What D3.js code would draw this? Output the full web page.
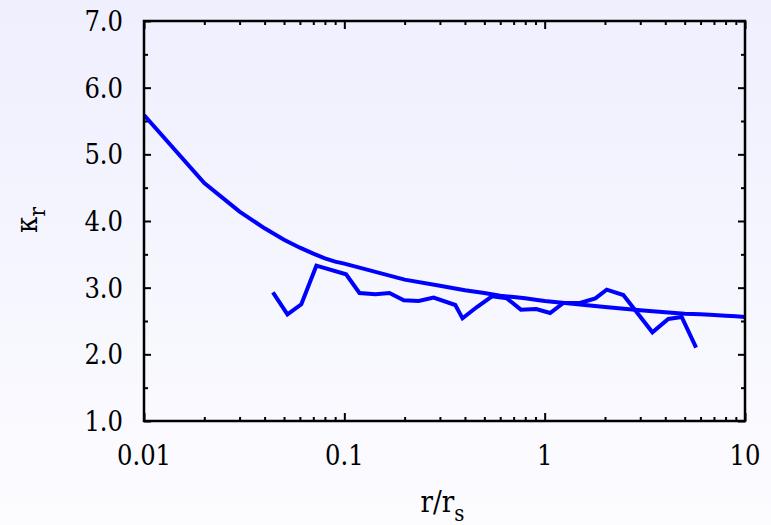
<!DOCTYPE html>
<html>
<head>
<meta charset="utf-8">
<script src="https://cdn.jsdelivr.net/npm/d3@7"></script>
<style>
  body { margin: 0; }
  svg { display: block; }
  svg text { font-family: "DejaVu Serif Condensed", "DejaVu Serif", serif; font-stretch: condensed; }
</style>
</head>
<body>
<div id="chart"></div>
<script>
var margin = {top: 21, right: 26, bottom: 104, left: 144};
var W = 771, H = 525;
var width = W - margin.left - margin.right;
var height = H - margin.top - margin.bottom;

// Data

// smooth model curve
var modelR = [0.01, 0.02, 0.03, 0.04, 0.05, 0.06, 0.07, 0.08, 0.09,
              0.1, 0.2, 0.3, 0.4, 0.5, 0.6, 0.7, 0.8, 0.9,
              1, 2, 3, 4, 5, 6, 7, 8, 9, 10];
var modelK = [5.59, 4.57, 4.14, 3.89, 3.72, 3.60, 3.51, 3.44, 3.39,
              3.36, 3.12, 3.03, 2.96, 2.92, 2.88, 2.86, 2.84, 2.82,
              2.80, 2.71, 2.66, 2.63, 2.61, 2.60, 2.59, 2.58, 2.57, 2.56];

// measured profile
var dataR = [0.044, 0.052, 0.061, 0.0725, 0.102, 0.119, 0.143, 0.168, 0.198,
             0.235, 0.279, 0.358, 0.389, 0.459, 0.546, 0.648, 0.761, 0.907,
             1.065, 1.24, 1.50, 1.79, 2.04, 2.47, 3.45, 4.14, 4.83, 5.70];
var dataK = [2.93, 2.60, 2.75, 3.33, 3.20, 2.92, 2.90, 2.92, 2.81,
             2.80, 2.85, 2.74, 2.54, 2.71, 2.87, 2.84, 2.67, 2.68,
             2.62, 2.77, 2.77, 2.84, 2.97, 2.89, 2.33, 2.53, 2.56, 2.10];

var xTicks = [0.01, 0.1, 1, 10];
var xTickLabels = ["0.01", "0.1", "1", "10"];
var yTicks = [1, 2, 3, 4, 5, 6, 7];

var svg = d3.select("#chart")
    .append("svg")
    .attr("width", W)
    .attr("height", H);

// background gradient
var grad = svg.append("defs").append("linearGradient")
    .attr("id", "bg")
    .attr("x1", 0).attr("y1", 0).attr("x2", 0).attr("y2", 1);
grad.append("stop").attr("offset", "0%").attr("stop-color", "#efeffe");
grad.append("stop").attr("offset", "100%").attr("stop-color", "#fcfcff");
svg.append("rect").attr("width", W).attr("height", H).attr("fill", "url(#bg)");

var g = svg.append("g")
    .attr("transform", `translate(${margin.left}, ${margin.top})`);

// Scales

var xScale = d3.scaleLog().domain([0.01, 10]).range([0, width]);
var yScale = d3.scaleLinear().domain([1, 7]).range([height, 0]);

// minor ticks
var xMinor = [];
[0.01, 0.1, 1].forEach(function(d) {
  for (var k = 2; k <= 9; k++) xMinor.push(d * k);
});
var yMinor = d3.range(1.5, 7, 1);

function styleAxis(sel) {
  sel.select(".domain").remove();
  sel.selectAll("line").attr("stroke", "#000").attr("stroke-width", 2);
  sel.selectAll("text").remove();
}

// inward ticks on all four sides
g.append("g").attr("transform", `translate(0, ${height})`)
  .call(d3.axisTop(xScale).tickValues(xTicks).tickSize(8)).call(styleAxis);
g.append("g").attr("transform", `translate(0, ${height})`)
  .call(d3.axisTop(xScale).tickValues(xMinor).tickSize(4)).call(styleAxis);
g.append("g")
  .call(d3.axisBottom(xScale).tickValues(xTicks).tickSize(8)).call(styleAxis);
g.append("g")
  .call(d3.axisBottom(xScale).tickValues(xMinor).tickSize(4)).call(styleAxis);
g.append("g")
  .call(d3.axisRight(yScale).tickValues(yTicks).tickSize(7)).call(styleAxis);
g.append("g")
  .call(d3.axisRight(yScale).tickValues(yMinor).tickSize(4)).call(styleAxis);
g.append("g").attr("transform", `translate(${width}, 0)`)
  .call(d3.axisLeft(yScale).tickValues(yTicks).tickSize(7)).call(styleAxis);
g.append("g").attr("transform", `translate(${width}, 0)`)
  .call(d3.axisLeft(yScale).tickValues(yMinor).tickSize(4)).call(styleAxis);

// tick labels
g.selectAll(".xlab")
  .data(xTicks)
  .enter().append("text")
  .attr("x", function(d) { return xScale(d); })
  .attr("y", height + 44)
  .attr("text-anchor", "middle")
  .style("font-size", "27px")
  .text(function(d, i) { return xTickLabels[i]; });

g.selectAll(".ylab")
  .data(yTicks)
  .enter().append("text")
  .attr("x", -21)
  .attr("y", function(d) { return yScale(d) + 10; })
  .attr("text-anchor", "end")
  .style("font-size", "27px")
  .text(function(d) { return d3.format(".1f")(d); });

// lines
var clip = g.append("clipPath").attr("id", "clip")
  .append("rect").attr("width", width).attr("height", height);

var line = d3.line()
    .x(function(d) { return xScale(d[0]); })
    .y(function(d) { return yScale(d[1]); });

g.append("path")
  .datum(d3.zip(modelR, modelK))
  .attr("d", line)
  .attr("fill", "none")
  .attr("stroke", "#0000ff")
  .attr("stroke-width", 4)
  .attr("clip-path", "url(#clip)");

g.append("path")
  .datum(d3.zip(dataR, dataK))
  .attr("d", line)
  .attr("fill", "none")
  .attr("stroke", "#0000ff")
  .attr("stroke-width", 4);

// frame
g.append("rect")
  .attr("width", width)
  .attr("height", height)
  .attr("fill", "none")
  .attr("stroke", "#000")
  .attr("stroke-width", 2.5);

// axis labels
var xLabel = svg.append("text")
  .attr("x", margin.left + width / 2 - 2)
  .attr("y", 512)
  .attr("text-anchor", "middle")
  .style("font-size", "29px");
xLabel.append("tspan").text("r/r");
xLabel.append("tspan").attr("dy", 9).style("font-size", "22px").text("s");

var yLabel = svg.append("text")
  .attr("transform", "translate(37, 220) rotate(-90)")
  .attr("text-anchor", "middle")
  .style("font-size", "29px");
yLabel.append("tspan").text("κ");
yLabel.append("tspan").attr("dy", 8).style("font-size", "22px").text("r");
</script>
</body>
</html>
